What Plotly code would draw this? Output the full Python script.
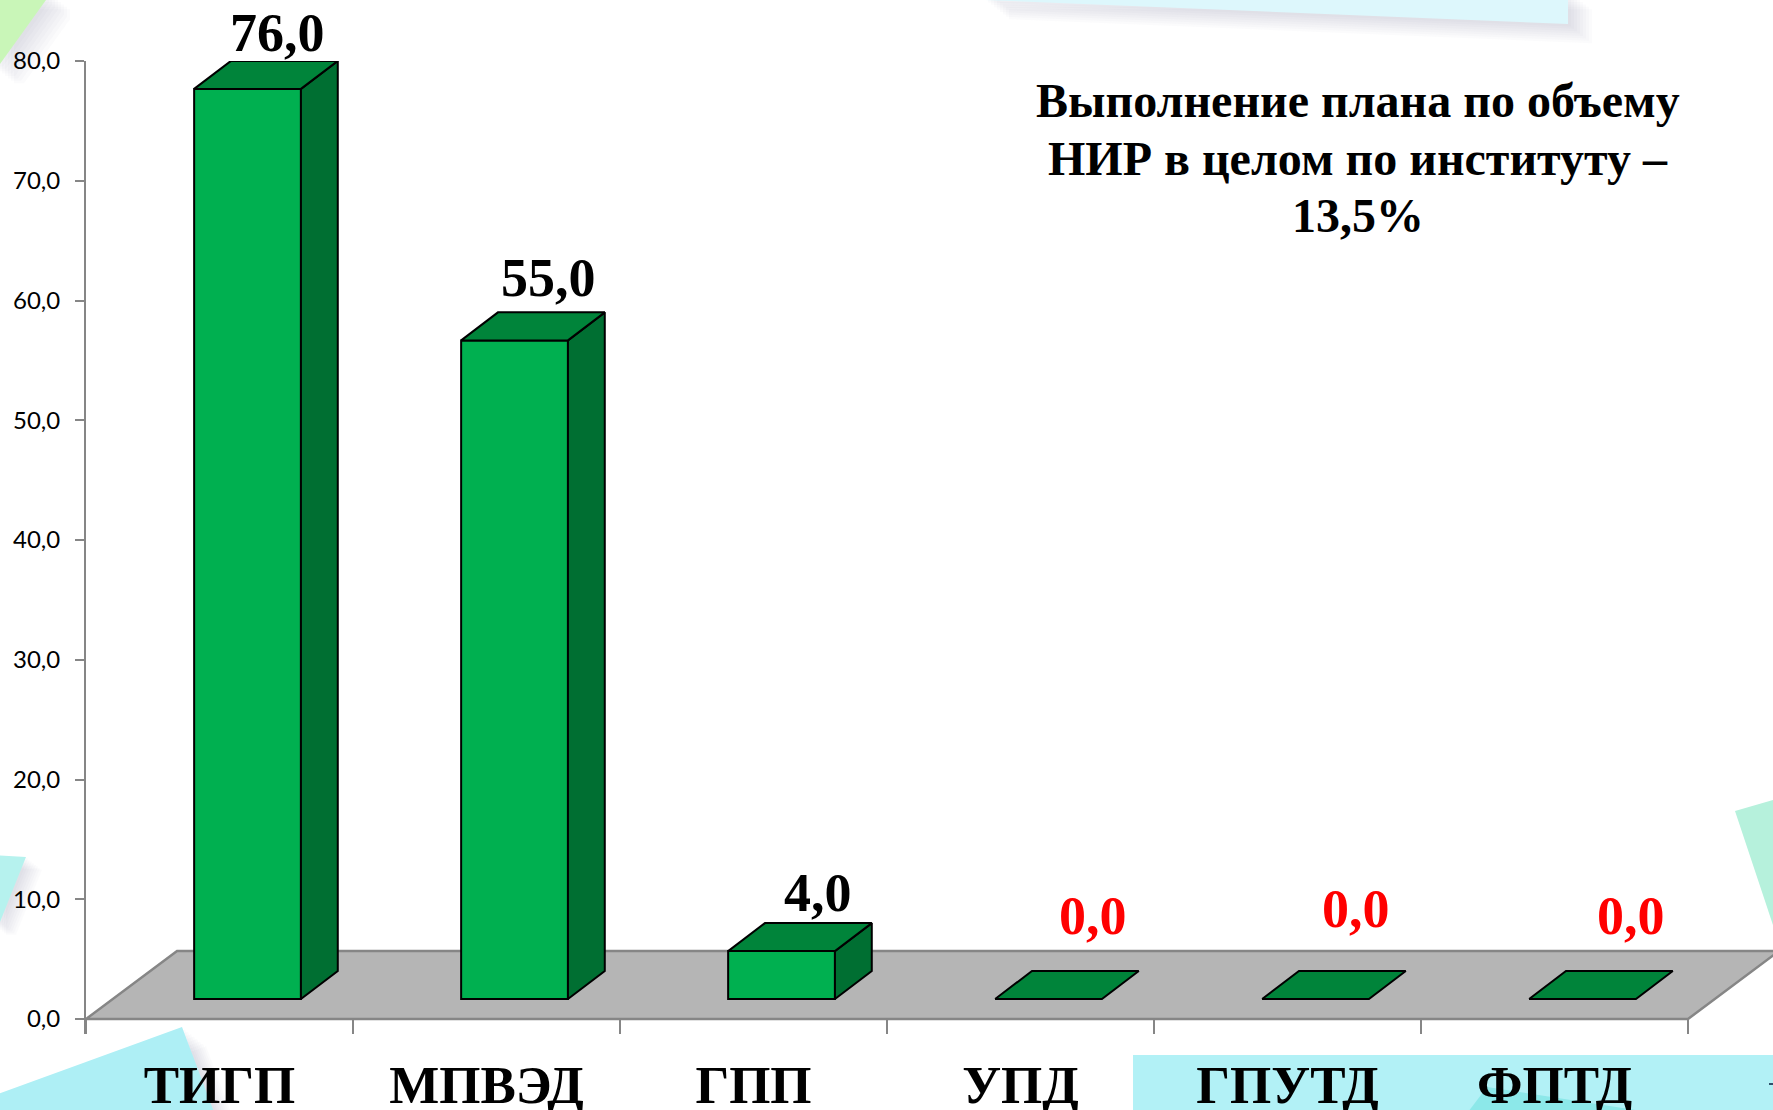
import plotly.graph_objects as go

W, H = 1773, 1110

categories = ["ТИГП", "МПВЭД", "ГПП", "УПД", "ГПУТД", "ФПТД"]
values = [76.0, 55.0, 4.0, 0.0, 0.0, 0.0]
value_labels = ["76,0", "55,0", "4,0", "0,0", "0,0", "0,0"]
value_colors = ["black", "black", "black", "red", "red", "red"]
y_ticks = [0, 10, 20, 30, 40, 50, 60, 70, 80]
title_lines = ["Выполнение плана по объему", "НИР в целом по институту –", "13,5%"]
title_line_y = [101, 158, 215]

# pseudo-3D geometry, in axis units
BAR_CENTER = 0.605
BAR_WIDTH = 0.40
BAR_BASE = 1.67
DEPTH_X = 0.138
DEPTH_Y = 2.34
FLOOR_DX = 0.341
FLOOR_DY = 5.68

# label nudges from the bar's front top edge, pixels
label_dx = [30, 34, 36, 44, 40, 48]
label_dy = [56, 62, 58, 83, 90, 83]

PLOT_L, PLOT_T, PLOT_B = 86, 61, 1034
PX_PER_CAT = 267
PX_PER_UNIT = 958 / 80

AXIS_GRAY = "#868686"
FONT_SERIF = "Liberation Serif"


def poly(points, color, opacity=1.0):
    path = "M" + " L".join(f"{x / W:.5f},{1 - y / H:.5f}" for x, y in points) + " Z"
    return dict(type="path", xref="paper", yref="paper", path=path, fillcolor=color,
                opacity=opacity, line=dict(width=0), layer="below")


def shadowed(points, color, reach=24):
    out = []
    for i in range(1, 9):
        d = reach * i / 8
        out.append(poly([(x + d, y + d * 0.8) for x, y in points], "#8f8a9c", 0.035))
    out.append(poly(points, color))
    return out


shapes = []
shapes += shadowed([(-10, -10), (46, -10), (46, 0), (0, 64), (-10, 64)], "#C9F6B8")
shapes += shadowed([(985, -10), (1568, -10), (1568, 24), (985, 0)], "#DDF7FC")
shapes += shadowed([(-10, 855), (26, 857), (0, 922), (-10, 922)], "#B6F2EE", 16)
shapes += shadowed([(-10, 1097), (182, 1027), (217, 1120), (-10, 1120)], "#AEEFF5")
shapes += [poly([(1735, 811), (1783, 797), (1783, 925), (1773, 925)], "#B6F1DC")]
shapes += [poly([(1133, 1055), (1783, 1055), (1783, 1120), (1133, 1120)], "#B2F1F6")]
shapes += [poly([(1462, 1120), (1487, 1087), (1700, 1120)], "#8CE8E9")]
shapes += [poly([(1769, 1083), (1773, 1083), (1773, 1085), (1769, 1085)], "#30506a")]

# floor, in data coordinates
x_max = (W - PLOT_L) / PX_PER_CAT
n = len(categories)
shapes.append(dict(
    type="path", xref="x", yref="y", layer="below",
    path=f"M0,0 L{n},0 L{n + FLOOR_DX},{FLOOR_DY} L{FLOOR_DX},{FLOOR_DY} Z",
    fillcolor="#B5B5B5", line=dict(color=AXIS_GRAY, width=2.5),
))

fig = go.Figure()

xc = [i + BAR_CENTER for i in range(n)]
fig.add_trace(go.Bar(
    x=xc, y=values, base=[BAR_BASE] * n, width=BAR_WIDTH,
    marker=dict(color="#00B050", line=dict(color="black", width=2)),
    cliponaxis=False, hoverinfo="skip", showlegend=False,
))

for cx, v in zip(xc, values):
    left, right = cx - BAR_WIDTH / 2, cx + BAR_WIDTH / 2
    top = BAR_BASE + v
    if v > 0:
        fig.add_trace(go.Scatter(
            x=[right, right + DEPTH_X, right + DEPTH_X, right, right],
            y=[BAR_BASE, BAR_BASE + DEPTH_Y, top + DEPTH_Y, top, BAR_BASE],
            mode="lines", fill="toself", fillcolor="#006F32",
            line=dict(color="black", width=2), cliponaxis=False,
            hoverinfo="skip", showlegend=False,
        ))
    fig.add_trace(go.Scatter(
        x=[left, right, right + DEPTH_X, left + DEPTH_X, left],
        y=[top, top, top + DEPTH_Y, top + DEPTH_Y, top],
        mode="lines", fill="toself", fillcolor="#00843A",
        line=dict(color="black", width=2), cliponaxis=False,
        hoverinfo="skip", showlegend=False,
    ))

annotations = []
for cx, v, txt, col, dx, dy in zip(xc, values, value_labels, value_colors, label_dx, label_dy):
    annotations.append(dict(
        x=cx, y=BAR_BASE + v, xref="x", yref="y", text=txt, showarrow=False,
        xanchor="center", yanchor="middle", xshift=dx, yshift=dy,
        font=dict(family=FONT_SERIF, size=54, color=col, weight="bold"),
    ))
for line, ly in zip(title_lines, title_line_y):
    annotations.append(dict(
        x=1358 / W, y=1 - ly / H, xref="paper", yref="paper", showarrow=False,
        text=line, align="center", xanchor="center", yanchor="middle",
        font=dict(family=FONT_SERIF, size=48, color="black", weight="bold"),
    ))

fig.update_layout(
    width=W, height=H,
    margin=dict(l=0, r=0, t=0, b=0, autoexpand=False),
    paper_bgcolor="white", plot_bgcolor="rgba(0,0,0,0)",
    separators=", ",
    shapes=shapes, annotations=annotations, showlegend=False,
    xaxis=dict(
        domain=[PLOT_L / W, 1], range=[0, x_max], showgrid=False, zeroline=False,
        showline=False, tickmode="array",
        tickvals=[i + 0.5 for i in range(n)], ticktext=categories,
        ticks="", ticklabelstandoff=15,
        tickfont=dict(family=FONT_SERIF, size=53, color="black", weight="bold"),
        minor=dict(tickmode="array", tickvals=list(range(n + 1)), ticks="inside",
                   ticklen=15, tickwidth=2, tickcolor=AXIS_GRAY, showgrid=False),
    ),
    yaxis=dict(
        domain=[1 - PLOT_B / H, 1 - PLOT_T / H],
        range=[-(PLOT_B - 1019) / PX_PER_UNIT, 80], showgrid=False, zeroline=False,
        showline=True, linecolor=AXIS_GRAY, linewidth=2,
        tickmode="array", tickvals=y_ticks, tickformat=".1f",
        ticks="outside", ticklen=9, tickwidth=2, tickcolor=AXIS_GRAY,
        ticklabelstandoff=10,
        tickfont=dict(family="Lato", size=24, color="black"),
    ),
)

fig.write_html("out.html", config={"displayModeBar": False},
               post_script="document.body.style.margin='0';document.body.style.overflow='hidden';")
